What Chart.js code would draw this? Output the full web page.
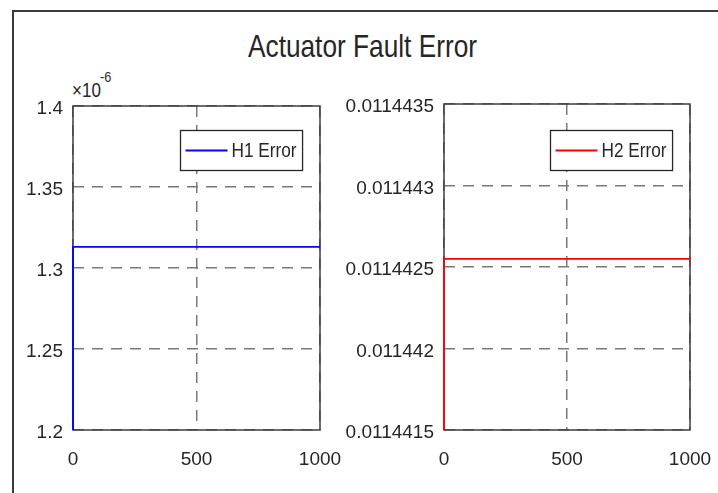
<!DOCTYPE html>
<html>
<head>
<meta charset="utf-8">
<script src="https://cdn.jsdelivr.net/npm/chart.js@4.4.0/dist/chart.umd.min.js"></script>
<style>
body { margin: 0; background: #fff; }
#fig { position: relative; width: 718px; height: 493px; overflow: hidden; background: #fff;
       font-family: "Liberation Sans", Arial, sans-serif; color: #262626; }
#frame { position: absolute; left: 12px; top: 10px; width: 720px; height: 500px;
         border-left: 2px solid #3a3a3a; border-top: 2px solid #3a3a3a; }
#title { position: absolute; left: 0; width: 725px; top: 30px; text-align: center; font-size: 32px; line-height: 1;
         transform: scaleX(0.82); transform-origin: 362.5px 0; }
#exp { position: absolute; left: 72px; top: 68px; width: 60px; height: 34px; transform: scaleX(0.85); transform-origin: 0 0; }
#exp .base { position: absolute; left: 0; top: 12px; font-size: 20px; line-height: 1; white-space: nowrap; }
#exp .pow { position: absolute; left: 33px; top: 1px; font-size: 15px; line-height: 1; }
.box { position: absolute; top: 0; height: 493px; }
#left { left: 0; width: 360px; }
#right { left: 340px; width: 378px; }
</style>
</head>
<body>
<div id="fig">
  <div id="frame"></div>
  <div id="title">Actuator Fault Error</div>
  <div id="exp"><span class="base">&times;10</span><span class="pow">-6</span></div>
  <div class="box" id="left"><canvas id="chart-h1" width="360" height="493"></canvas></div>
  <div class="box" id="right"><canvas id="chart-h2" width="378" height="493"></canvas></div>
</div>
<script>
// data
var timeSteps = [0, 0, 1000];
var h1Error = [0, 1.313e-6, 1.313e-6];
var h2Error = [0, 0.01144255, 0.01144255];

var xTicks = [0, 500, 1000];
var h1Ticks = [1.2e-6, 1.25e-6, 1.3e-6, 1.35e-6, 1.4e-6];
var h2Ticks = [0.0114415, 0.011442, 0.0114425, 0.011443, 0.0114435];

var FONT = '"Liberation Sans", Arial, sans-serif';
var TEXT = '#262626';
Chart.defaults.font.family = FONT;
Chart.defaults.color = TEXT;

// MATLAB style box round the axes
var axesBox = {
    id: 'axesBox',
    beforeDatasetsDraw: function(chart) {
        var a = chart.chartArea, ctx = chart.ctx;
        ctx.save();
        ctx.strokeStyle = '#3c3c3c';
        ctx.lineWidth = 1.5;
        ctx.strokeRect(a.left, a.top, a.right - a.left, a.bottom - a.top);
        ctx.restore();
    }
};

// legend drawn inside the axes, top right, with a border
var insetLegend = {
    id: 'insetLegend',
    afterDatasetsDraw: function(chart) {
        var a = chart.chartArea, ctx = chart.ctx, ds = chart.data.datasets[0];
        var squeeze = 0.82;
        ctx.save();
        ctx.font = '21px ' + FONT;
        var tw = ctx.measureText(ds.label).width * squeeze;
        var w = 5 + 42 + 4 + tw + 6, h = 40;
        var x = Math.round(a.right - 18 - w) + 0.5, y = 130.5;
        ctx.fillStyle = '#fff';
        ctx.fillRect(x, y, w, h);
        ctx.strokeStyle = TEXT;
        ctx.lineWidth = 1.3;
        ctx.strokeRect(x, y, w, h);
        ctx.strokeStyle = ds.borderColor;
        ctx.lineWidth = 2;
        ctx.beginPath();
        ctx.moveTo(x + 5, y + h / 2);
        ctx.lineTo(x + 47, y + h / 2);
        ctx.stroke();
        ctx.fillStyle = TEXT;
        ctx.textBaseline = 'middle';
        ctx.translate(x + 51, y + h / 2 + 1);
        ctx.scale(squeeze, 1);
        ctx.fillText(ds.label, 0, 0);
        ctx.restore();
    }
};

var makeConfig = function(label, color, values, yTicks, yWidth, padTop, padRight, fmt) {
    return {
        type: 'line',
        data: {
            datasets: [{
                label: label,
                data: timeSteps.map(function(t, i) { return {x: t, y: values[i]}; }),
                borderColor: color,
                borderWidth: 1.8,
                pointRadius: 0,
                tension: 0,
                fill: false,
                clip: {left: 2, top: 0, right: 0, bottom: 0}
            }]
        },
        options: {
            responsive: false,
            animation: false,
            devicePixelRatio: 1,
            layout: { padding: { top: padTop, right: padRight, left: 0, bottom: 0 } },
            plugins: { legend: { display: false }, title: { display: false }, tooltip: { enabled: false } },
            scales: {
                x: {
                    type: 'linear',
                    min: xTicks[0],
                    max: xTicks[xTicks.length - 1],
                    afterBuildTicks: function(s) { s.ticks = xTicks.map(function(v) { return {value: v}; }); },
                    afterFit: function(s) { s.height = 63; s.paddingLeft = 0; s.paddingRight = 0; },
                    grid: { color: '#7a7a7a', lineWidth: 1.5, drawTicks: false },
                    border: { display: false, dash: [11, 8] },
                    ticks: { padding: 18, color: TEXT, font: { size: 19 }, maxRotation: 0, autoSkip: false,
                             callback: function(v) { return String(v); } }
                },
                y: {
                    type: 'linear',
                    min: yTicks[0],
                    max: yTicks[yTicks.length - 1],
                    afterBuildTicks: function(s) { s.ticks = yTicks.map(function(v) { return {value: v}; }); },
                    afterFit: function(s) { s.width = yWidth; },
                    grid: { color: '#7a7a7a', lineWidth: 1.5, drawTicks: false },
                    border: { display: false, dash: [11, 8] },
                    ticks: { padding: 10, labelOffset: 3, color: TEXT, font: { size: 19 }, autoSkip: false, callback: fmt }
                }
            }
        },
        plugins: [axesBox, insetLegend]
    };
};

window.onload = function() {
    new Chart(document.getElementById('chart-h1').getContext('2d'),
        makeConfig('H1 Error', '#0000ff', h1Error, h1Ticks, 73, 106, 40, function(v) {
            return String(parseFloat((v * 1e6).toFixed(4)));
        }));
    new Chart(document.getElementById('chart-h2').getContext('2d'),
        makeConfig('H2 Error', '#ff0000', h2Error, h2Ticks, 104, 104, 28, function(v) {
            return String(parseFloat(v.toFixed(9)));
        }));
};
</script>
</body>
</html>
